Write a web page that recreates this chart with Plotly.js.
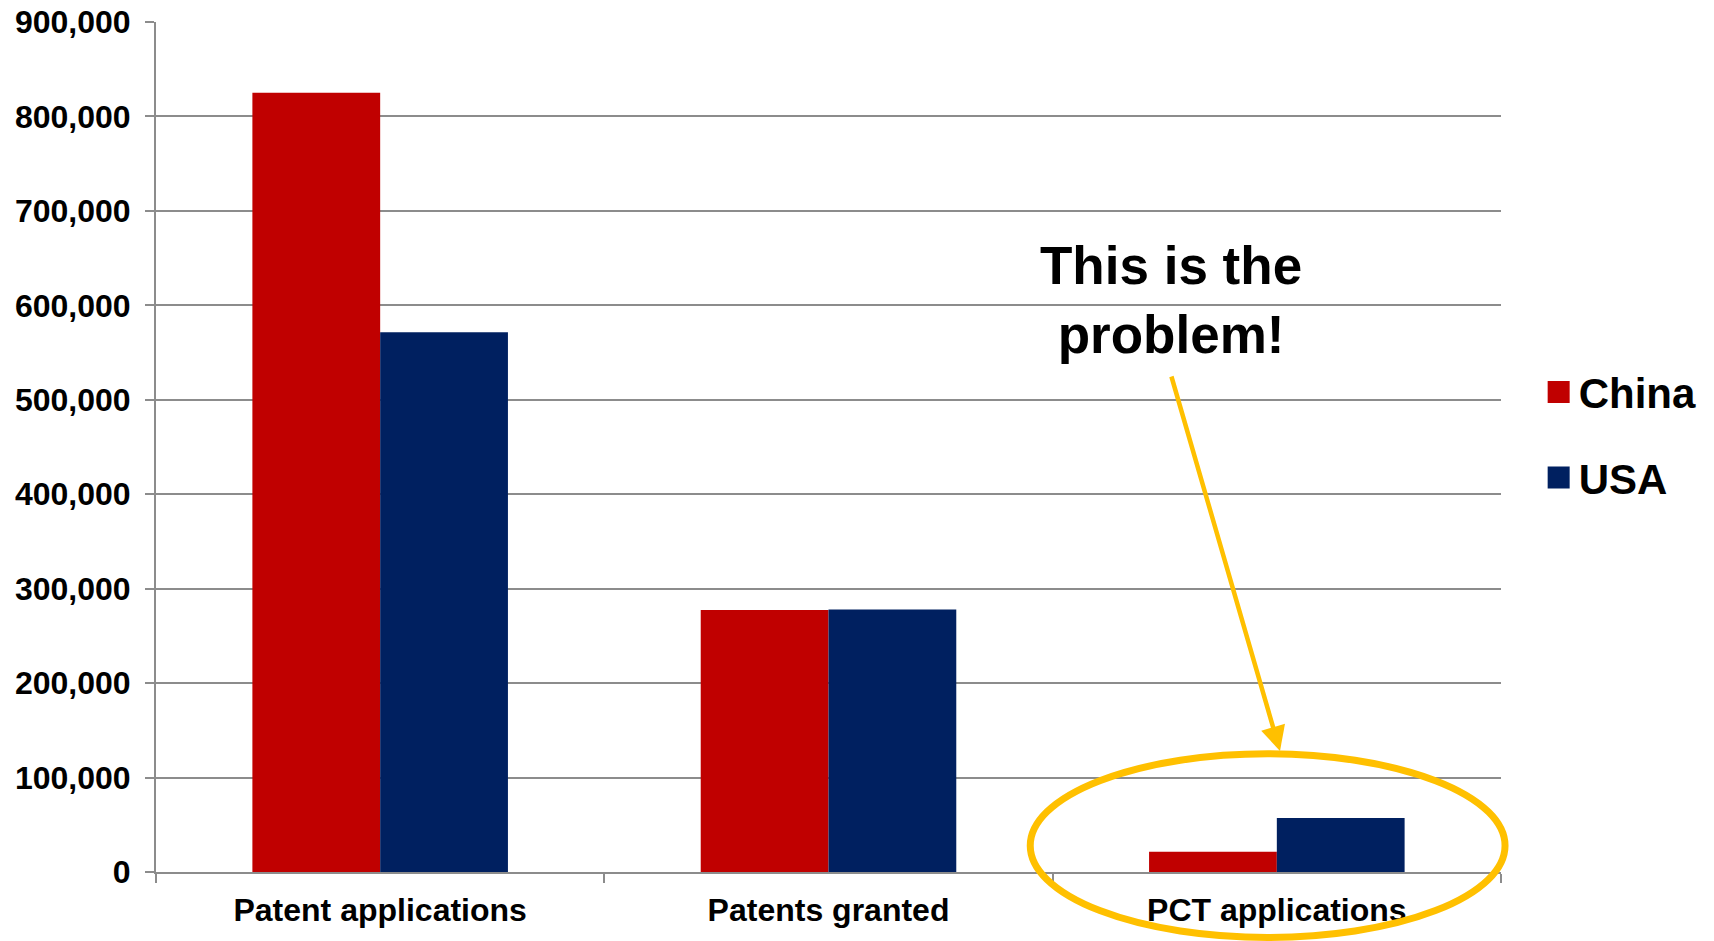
<!DOCTYPE html>
<html>
<head>
<meta charset="utf-8">
<script src="https://cdn.plot.ly/plotly-3.0.1.min.js"></script>
<style>html,body{margin:0;padding:0;background:#fff;}#chart{width:1714px;height:941px;}</style>
</head>
<body>
<div id="chart"></div>
<script>
const categories = ["Patent applications", "Patents granted", "PCT applications"];
const chinaValues = [825136, 277500, 21516];
const usaValues = [571612, 278000, 57239];
const seriesNames = ["China", "USA"];
const yTickValues = [0, 100000, 200000, 300000, 400000, 500000, 600000, 700000, 800000, 900000];
const calloutText = "This is the<br>problem!";

const FONT = "Liberation Sans, Arial, sans-serif";
const gridGray = "#8c8c8c";

const traces = [
  {type: "bar", name: seriesNames[0], x: categories, y: chinaValues,
   marker: {color: "#C00000"}, legendgroup: "a", hoverinfo: "y"},
  {type: "bar", name: seriesNames[1], x: categories, y: usaValues,
   marker: {color: "#002060"}, legendgroup: "b", hoverinfo: "y"}
];

const layout = {
  width: 1714, height: 941,
  margin: {l: 156, r: 213, t: 22, b: 69, pad: 0},
  paper_bgcolor: "#ffffff", plot_bgcolor: "#ffffff",
  barmode: "group", bargap: 0.43, bargroupgap: 0,
  font: {family: FONT, color: "#000", weight: 700},
  showlegend: true,
  legend: {x: 1.028, xanchor: "left", y: 0.514, yanchor: "middle",
           font: {size: 42, family: FONT, color: "#000", weight: 700},
           tracegroupgap: 28, bgcolor: "rgba(0,0,0,0)"},
  xaxis: {type: "category", showgrid: false, showline: true, linecolor: gridGray, linewidth: 2,
          ticks: "outside", tickson: "boundaries", ticklen: 9, tickcolor: gridGray, tickwidth: 2,
          ticklabelstandoff: 9,
          tickfont: {size: 32, family: FONT, color: "#000", weight: 700}, fixedrange: true},
  yaxis: {range: [0, 900000], tickvals: yTickValues, tickformat: ",d", showgrid: true,
          gridcolor: gridGray, gridwidth: 2, showline: true, linecolor: gridGray, linewidth: 2,
          ticks: "outside", ticklen: 9, tickcolor: gridGray, tickwidth: 2, zeroline: false,
          ticklabelstandoff: 8,
          tickfont: {size: 32, family: FONT, color: "#000", weight: 700}, fixedrange: true},
  shapes: [
    {type: "circle", xref: "paper", yref: "paper", x0: 0.650, x1: 1.003, y0: -0.077, y1: 0.139,
     line: {color: "#FFC000", width: 7}, layer: "above"}
  ],
  annotations: [
    {xref: "paper", yref: "paper", x: 0.755, y: 0.673, xanchor: "center", yanchor: "middle",
     text: calloutText, showarrow: false,
     font: {size: 53, family: FONT, color: "#000", weight: 700}, align: "center"},
    {xref: "paper", yref: "paper", x: (1280 - 156) / 1345, y: (872 - 751) / 850, text: "",
     showarrow: true, arrowhead: 2, arrowsize: 1.1, arrowwidth: 4.5, arrowcolor: "#FFC000",
     ax: -109, ay: -376}
  ]
};

Plotly.newPlot("chart", traces, layout, {displayModeBar: false, staticPlot: true}).then(function () {
  document.querySelectorAll(".legendpoints path").forEach(function (p) {
    p.setAttribute("d", "M11,11H-11V-11H11Z");
  });
});
</script>
</body>
</html>
